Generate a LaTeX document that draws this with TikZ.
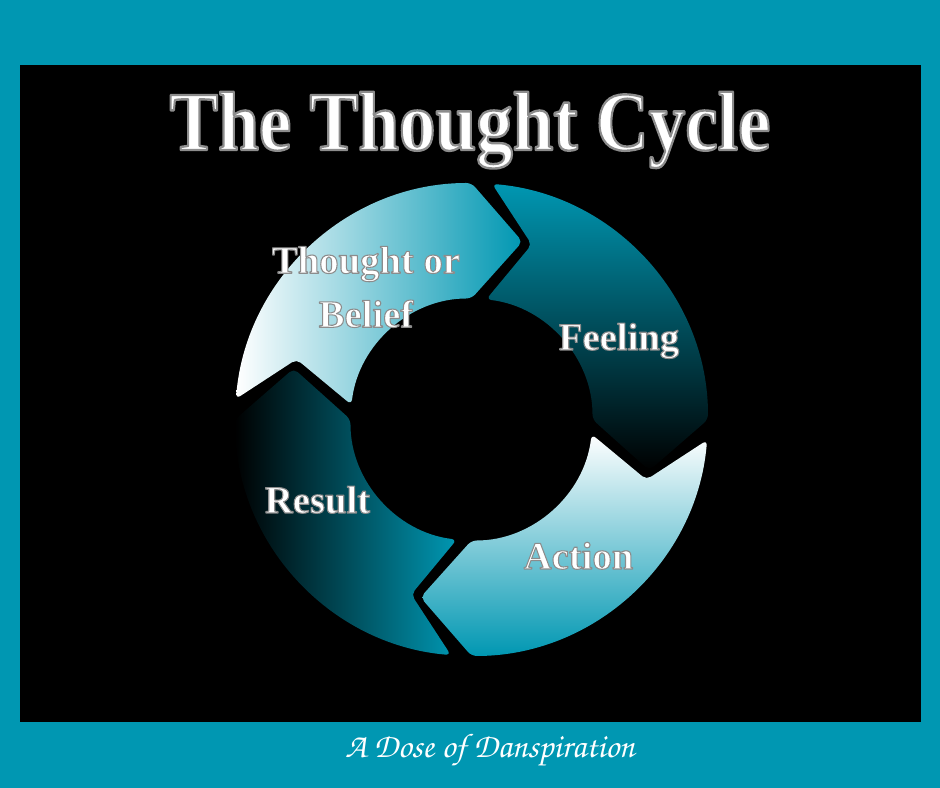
\documentclass[tikz,border=0pt]{standalone}
\usepackage{fontspec}
\usepackage{graphicx}
\setmainfont{Liberation Serif}
\newfontfamily\chorusfont{TeX Gyre Chorus}
\usetikzlibrary{calc}
\definecolor{tealbg}{HTML}{0097B2}
% outlined white text: fill white, stroke gray (text render mode 2)
\newcommand\olText[3]{{\color{white}\special{pdf:literal direct #2 G #1 w 1 j 2 Tr}#3\special{pdf:literal direct 0 Tr}}}
\def\Ro{236.5}
\def\Ri{121}
\def\Rm{185}
\newcommand\arrowpath[1]{($(C)+(#1:\Ro)$) arc[start angle=#1, end angle=#1-85, radius=\Ro] -- ($(C)+(#1-101:\Rm)$) -- ($(C)+(#1-85:\Ri)$) arc[start angle=#1-85, end angle=#1-2, radius=\Ri] -- ($(C)+(#1-14:\Rm)$) -- cycle}
\tikzset{
  lbl/.style={font=\fontsize{29}{40.5}\selectfont\bfseries, inner sep=0pt, align=center},
  ringseg/.style={rounded corners=4pt}
}
\begin{document}
\begin{tikzpicture}[x=0.75pt,y=0.75pt]
\useasboundingbox (0,0) rectangle (940,788);
\fill[tealbg] (0,0) rectangle (940,788);
\fill[black] (20,66) rectangle (921,723);
\coordinate (C) at (471.5,368.5);
% arrows
\shade[ringseg, left color=white, right color=tealbg] \arrowpath{175};
\shade[ringseg, top color=tealbg, bottom color=black] \arrowpath{85};
\shade[ringseg, top color=white, bottom color=tealbg] \arrowpath{-5};
\shade[ringseg, left color=black, right color=tealbg] \arrowpath{-95};
% title
\node[anchor=base, inner sep=0pt] (title) at (470,638)
  {\fontsize{63}{63}\selectfont\bfseries\scalebox{0.87}[1]{\olText{1.8}{0.55}{The Thought Cycle}}};
% labels
\node[lbl] (thought) at (366,501) {\olText{0.8}{0.55}{Thought or}\\\olText{0.8}{0.55}{Belief}};
\node[lbl, anchor=base] (feeling) at (619,438) {\olText{0.8}{0.55}{Feeling}};
\node[lbl, anchor=base] (action) at (578.5,219) {\olText{0.8}{0.55}{Action}};
\node[lbl, anchor=base] (result) at (317.5,275) {\olText{0.8}{0.55}{Result}};
% footer
\node[anchor=base, inner sep=0pt, text=white] (footer) at (490,30)
  {\resizebox{217pt}{!}{\chorusfont A Dose of Danspiration}};
\end{tikzpicture}
\end{document}
